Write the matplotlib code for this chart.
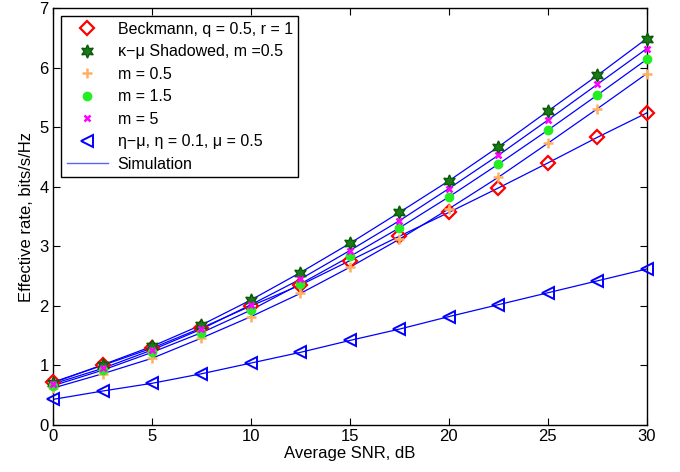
import matplotlib
matplotlib.use("Agg")
import matplotlib.pyplot as plt

plt.rcParams["font.family"] = ["Liberation Sans", "DejaVu Sans"]

snr_db = [0, 2.5, 5, 7.5, 10, 12.5, 15, 17.5, 20, 22.5, 25, 27.5, 30]

beckmann = [0.72, 1.00, 1.29, 1.63, 2.00, 2.35, 2.76, 3.17, 3.57, 3.98, 4.40, 4.83, 5.24]
kmu_m05 = [0.71, 1.01, 1.32, 1.68, 2.10, 2.56, 3.05, 3.57, 4.10, 4.67, 5.27, 5.87, 6.49]
m_05 = [0.62, 0.86, 1.12, 1.46, 1.82, 2.21, 2.65, 3.12, 3.63, 4.16, 4.73, 5.31, 5.90]
m_15 = [0.66, 0.92, 1.22, 1.55, 1.93, 2.37, 2.83, 3.31, 3.83, 4.38, 4.95, 5.54, 6.14]
m_5 = [0.69, 0.95, 1.26, 1.61, 2.02, 2.45, 2.93, 3.43, 3.97, 4.53, 5.12, 5.72, 6.32]
eta_mu = [0.43, 0.57, 0.70, 0.86, 1.04, 1.22, 1.42, 1.61, 1.82, 2.02, 2.22, 2.42, 2.62]

labels = ["Beckmann, q = 0.5, r = 1",
          "\u03ba\u2212\u03bc Shadowed, m =0.5",
          "m = 0.5",
          "m = 1.5",
          "m = 5",
          "\u03b7\u2212\u03bc, \u03b7 = 0.1, \u03bc = 0.5"]

fig = plt.figure(figsize=(6.8, 4.72), dpi=100)
ax = fig.add_axes([0.078, 0.0996, 0.873, 0.883])

series = [beckmann, kmu_m05, m_05, m_15, m_5, eta_mu]
styles = [
    dict(marker="D", ms=7, mfc="none", mec="red", mew=1.6),
    dict(marker=(6, 1, 0), ms=9.5, mfc="#1a7a1a", mec="#0a5a0a", mew=1.0),
    dict(marker="+", ms=7, mec="#ffb060", mew=1.8),
    dict(marker="o", ms=6, mfc="#22ee22", mec="#22ee22"),
    dict(marker="x", ms=5, mec="magenta", mew=1.8),
    dict(marker="<", ms=9, mfc="none", mec="blue", mew=1.4),
]

# simulation curves
for ys in series:
    ax.plot(snr_db, ys, color="blue", lw=0.9, zorder=2)

handles = []
for ys, st, lab in zip(series, styles, labels):
    h, = ax.plot(snr_db, ys, linestyle="none", label=lab, zorder=3,
                 clip_on=False, **st)
    handles.append(h)

sim, = ax.plot([], [], color="#5566ff", lw=1.0, label="Simulation")
handles.append(sim)

ax.set_xlim(0, 30)
ax.set_ylim(0, 7)
ax.set_xticks(range(0, 31, 5))
ax.set_yticks(range(0, 8))
ax.tick_params(direction="in", top=True, right=True, labelsize=12, length=5, pad=3)
for s in ax.spines.values():
    s.set_linewidth(1.0)
ax.set_xlabel("Average SNR, dB", fontsize=12, labelpad=1)
ax.set_ylabel("Effective rate, bits/s/Hz", fontsize=12, labelpad=4)

leg = ax.legend(handles=handles, loc="upper left", fontsize=11.5, frameon=True,
                fancybox=False, edgecolor="black", framealpha=1,
                borderaxespad=0.5, handlelength=2.6, labelspacing=0.47,
                borderpad=0.35, handletextpad=0.6)
leg.get_frame().set_linewidth(1.0)
leg.set_zorder(5)

fig.savefig("out.png", dpi=100)
